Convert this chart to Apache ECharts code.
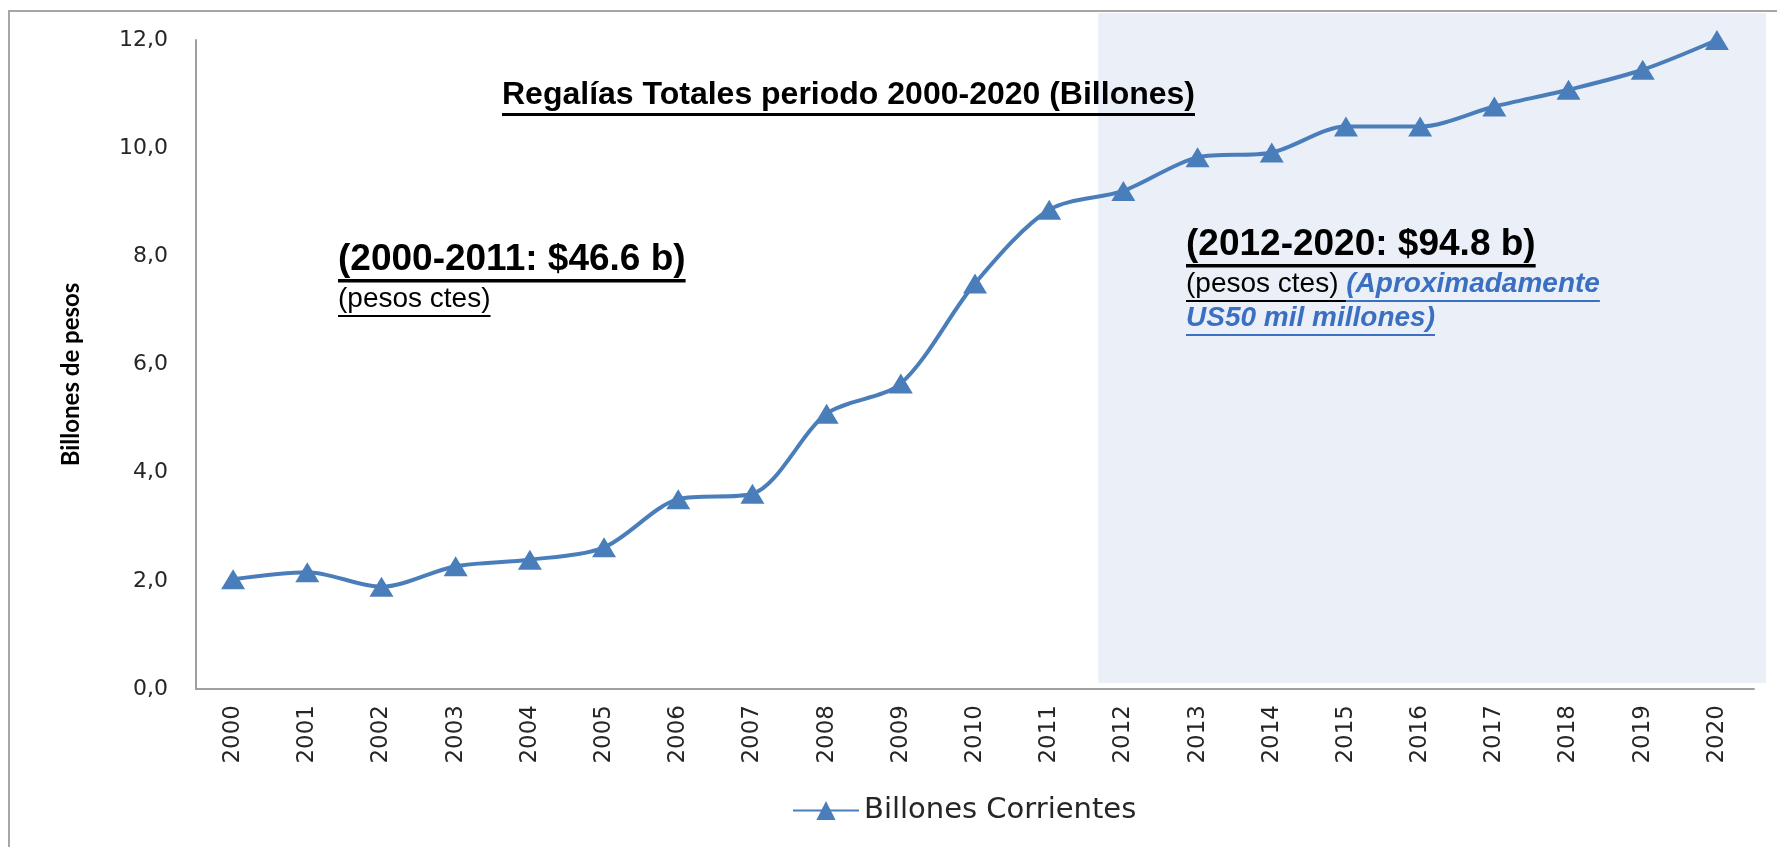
<!DOCTYPE html>
<html>
<head>
<meta charset="utf-8">
<script src="https://cdn.jsdelivr.net/npm/echarts@6/dist/echarts.min.js"></script>
<style>html,body{margin:0;padding:0;background:#fff}#c{width:1777px;height:847px}</style>
</head>
<body>
<div id="c"></div>
<script>
var years = ['2000','2001','2002','2003','2004','2005','2006','2007','2008','2009','2010','2011','2012','2013','2014','2015','2016','2017','2018','2019','2020'];
var billonesCorrientes = [2.03, 2.16, 1.89, 2.27, 2.39, 2.62, 3.51, 3.61, 5.09, 5.65, 7.50, 8.86, 9.21, 9.83, 9.92, 10.40, 10.40, 10.77, 11.08, 11.45, 12.00];
var seriesName = 'Billones Corrientes';
var titleText = 'Regalías Totales periodo 2000-2020 (Billones)';
var note1 = '(2000-2011: $46.6 b)';
var note2 = '(2012-2020: $94.8 b)';
var subNote = '(pesos ctes)';
var usdNote1 = '(Aproximadamente';
var usdNote2 = 'US50 mil millones)';
var yAxisTitle = 'Billones de pesos';

var chart = echarts.init(document.getElementById('c'), null, {renderer: 'canvas'});

var mctx = document.createElement('canvas').getContext('2d');
function tw(text, font) { mctx.font = font; return mctx.measureText(text).width; }

var SANS = "'Liberation Sans', Arial, sans-serif";
var BLUE = '#3a6fc1';

function textEl(text, x, baseline, size, opts) {
  opts = opts || {};
  var weight = opts.bold ? 'bold' : 'normal';
  var style = opts.italic ? 'italic' : 'normal';
  var font = style + ' ' + weight + ' ' + size + 'px ' + SANS;
  var w = tw(text, font);
  var color = opts.color || '#000';
  var els = [{
    type: 'text', left: x, top: baseline - size * 0.905, z: 10,
    style: {text: text, fill: color, font: font, textVerticalAlign: 'top'}
  }];
  if (opts.underline) {
    els.push({
      type: 'rect', z: 10,
      shape: {x: x, y: baseline + (opts.uOff || 3), width: w, height: opts.uH || 2.5},
      style: {fill: color}
    });
  }
  return {els: els, width: w};
}

function buildGraphics() {
  var g = [];
  g.push({type: 'rect', z: -2, shape: {x: 9, y: 11, width: 1800, height: 900},
          style: {fill: 'none', stroke: '#a6a6a6', lineWidth: 2}});
  var bw = chart.getModel().getComponent('xAxis', 0).axis.getBandWidth();
  var x2012 = chart.convertToPixel({xAxisIndex: 0}, '2012');
  var sx = x2012 - bw * 0.34;
  g.push({type: 'rect', z: -1, shape: {x: sx, y: 13, width: 1766 - sx, height: 670},
          style: {fill: '#ebf0f8'}});

  var t = textEl(titleText, 502, 108, 32, {bold: true, underline: true, uOff: 5, uH: 3});
  g = g.concat(t.els);

  var a = textEl(note1, 338, 275, 37, {bold: true, underline: true, uOff: 4, uH: 3.5});
  g = g.concat(a.els);
  var b = textEl(subNote, 338, 311, 28, {underline: true, uOff: 4, uH: 2});
  g = g.concat(b.els);

  var c = textEl(note2, 1186, 260, 37, {bold: true, underline: true, uOff: 4, uH: 3.5});
  g = g.concat(c.els);
  var d = textEl(subNote + ' ', 1186, 296, 28, {underline: true, uOff: 4, uH: 2});
  g = g.concat(d.els);
  var e = textEl(usdNote1, 1186 + d.width, 296, 28, {bold: true, italic: true, color: BLUE, underline: true, uOff: 4, uH: 2});
  g = g.concat(e.els);
  var f = textEl(usdNote2, 1186, 330, 28, {bold: true, italic: true, color: BLUE, underline: true, uOff: 4, uH: 2});
  g = g.concat(f.els);
  return g;
}

var option = {
  animation: false,
  backgroundColor: '#fff',
  grid: {left: 196, top: 40, right: 23, bottom: 158, containLabel: false},
  legend: {
    data: [seriesName], left: 787, top: 791,
    itemWidth: 66, itemHeight: 24, itemGap: 10,
    textStyle: {fontFamily: 'DejaVu Sans', fontSize: 29, color: '#262626'}
  },
  xAxis: {
    type: 'category', data: years, boundaryGap: true,
    axisLine: {lineStyle: {color: '#a0a0a0', width: 2}},
    axisTick: {show: false},
    axisLabel: {rotate: 90, margin: 16, fontFamily: 'DejaVu Sans', fontSize: 23, color: '#262626'},
    splitLine: {show: false}
  },
  yAxis: {
    type: 'value', min: 0, max: 12, interval: 2,
    name: yAxisTitle, nameLocation: 'middle', nameGap: 113, nameRotate: 90,
    nameTextStyle: {fontFamily: 'Lato', fontWeight: 'bold', fontSize: 24, color: '#000', padding: [0, 20, 0, 0]},
    axisLine: {show: true, lineStyle: {color: '#a0a0a0', width: 2}},
    axisTick: {show: false},
    axisLabel: {margin: 28, fontFamily: 'DejaVu Sans', fontSize: 22, color: '#262626',
      formatter: function (v) { return v.toFixed(1).replace('.', ','); }},
    splitLine: {show: false}
  },
  series: [{
    name: seriesName, type: 'line', data: billonesCorrientes,
    smooth: 0.3, symbol: 'triangle', symbolSize: [24, 20],
    clip: false,
    lineStyle: {color: '#4a7ebb', width: 4},
    itemStyle: {color: '#4a7ebb'},
    z: 3
  }]
};
chart.setOption(option);
chart.setOption({graphic: buildGraphics()});
</script>
</body>
</html>
